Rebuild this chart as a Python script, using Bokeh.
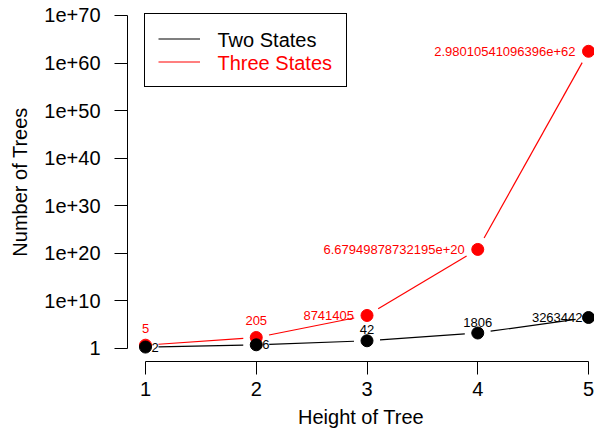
import math
from bokeh.plotting import figure
from bokeh.models import (FixedTicker, CustomJSTickFormatter, Range1d, Legend,
                          LegendItem, ColumnDataSource)
from bokeh.core.properties import value
from bokeh.embed import file_html
from bokeh.resources import INLINE

# ---------------- data ----------------
heights = [1, 2, 3, 4, 5]
two_states = [2, 6, 42, 1806, 3263442]
three_states = [5, 205, 8741405, 6.67949878732195e+20, 2.98010541096396e+62]
two_labels = ["2", "6", "42", "1806", "3263442"]
three_labels = ["5", "205", "8741405", "6.67949878732195e+20", "2.98010541096396e+62"]
x_ticks = [1, 2, 3, 4, 5]
y_ticks = [1e0, 1e10, 1e20, 1e30, 1e40, 1e50, 1e60, 1e70]
y_tick_labels = ["1", "1e+10", "1e+20", "1e+30", "1e+40", "1e+50", "1e+60", "1e+70"]
series_names = ["Two States", "Three States"]
series_colors = ["black", "red"]
# label positions (R style: 2 = left, 3 = above, 4 = right)
two_pos = [4, 4, 3, 3, 2]
three_pos = [3, 3, 2, 2, 2]

FONT = "Liberation Sans"
W, H = 594, 432
BL, BR, BT, BB = 127, 0, 2, 71
FW, FH = W - BL - BR, H - BT - BB
XS, XE = 0.8375, 5.054
YB, YT = -2.733, 72.73          # log10 range of the y axis

p = figure(width=W, height=H, output_backend="svg", toolbar_location=None,
           y_axis_type="log",
           x_range=Range1d(XS, XE), y_range=Range1d(10 ** YB, 10 ** YT),
           min_border_left=BL, min_border_right=BR,
           min_border_top=BT, min_border_bottom=BB)
p.outline_line_color = None
p.grid.visible = False
p.background_fill_color = "white"

kx = FW / (XE - XS)
ky = FH / (YT - YB)
GAP = 13.0


def px_to_data(sx, sy_top):
    """frame pixel (from left, from top) -> data coordinates"""
    return XS + sx / kx, 10 ** (YT - sy_top / ky)


def gapped_segments(xs, ys):
    x0, y0, x1, y1 = [], [], [], []
    for i in range(len(xs) - 1):
        ax, ay = (xs[i] - XS) * kx, math.log10(ys[i]) * ky
        bx, by = (xs[i + 1] - XS) * kx, math.log10(ys[i + 1]) * ky
        d = math.hypot(bx - ax, by - ay)
        if d <= 2 * GAP:
            continue
        ux, uy = (bx - ax) / d, (by - ay) / d
        sx, sy = ax + ux * GAP, ay + uy * GAP
        ex, ey = bx - ux * GAP, by - uy * GAP
        x0.append(XS + sx / kx); y0.append(10 ** (sy / ky))
        x1.append(XS + ex / kx); y1.append(10 ** (ey / ky))
    return dict(x0=x0, y0=y0, x1=x1, y1=y1)


seg_two = p.segment(x0="x0", y0="y0", x1="x1", y1="y1",
                    source=ColumnDataSource(gapped_segments(heights, two_states)),
                    line_color=series_colors[0], line_width=1.2)
seg_three = p.segment(x0="x0", y0="y0", x1="x1", y1="y1",
                      source=ColumnDataSource(gapped_segments(heights, three_states)),
                      line_color=series_colors[1], line_width=1.2)

p.scatter(heights, three_states, size=12, fill_color="red", line_color="red")
p.scatter(heights, two_states, size=12, fill_color="black", line_color="black")


def add_labels(xs, ys, labels, pos, color, off_side, off_up):
    for code, align, dx, dy in [(2, "right", -off_side, 0),
                                (3, "center", 0, -off_up),
                                (4, "left", off_side, 0)]:
        idx = [i for i, c in enumerate(pos) if c == code]
        if not idx:
            continue
        p.text(x=[xs[i] for i in idx], y=[ys[i] for i in idx],
               text=[labels[i] for i in idx],
               text_font=value(FONT), text_font_size="13px", text_color=color,
               text_align=align, text_baseline="middle", x_offset=dx, y_offset=dy)


add_labels(heights, two_states, two_labels, two_pos, "black", 6, 11)
add_labels(heights, three_states, three_labels, three_pos, "red", 13, 17)

# ---------------- axes ----------------
for ax in (p.xaxis[0], p.yaxis[0]):
    ax.axis_line_color = "black"
    ax.axis_line_width = 1
    ax.major_tick_line_color = "black"
    ax.major_tick_line_width = 1
    ax.major_tick_in = 0
    ax.major_tick_out = 13
    ax.minor_tick_line_color = None
    ax.major_label_text_font = FONT
    ax.major_label_text_font_size = "20px"
    ax.major_label_text_color = "black"
    ax.axis_label_text_font = FONT
    ax.axis_label_text_font_size = "20px"
    ax.axis_label_text_font_style = "normal"
    ax.axis_label_text_color = "black"

p.xaxis.ticker = FixedTicker(ticks=x_ticks)
p.xaxis.bounds = (x_ticks[0], x_ticks[-1])
p.xaxis.major_label_standoff = 7
p.xaxis.axis_label = "Height of Tree"
p.xaxis.axis_label_standoff = 7

p.yaxis.ticker = FixedTicker(ticks=y_ticks)
p.yaxis.bounds = (y_ticks[0], y_ticks[-1])
p.yaxis.formatter = CustomJSTickFormatter(
    args=dict(labels=y_tick_labels),
    code="return labels[Math.round(Math.log10(tick) / 10)];")
p.yaxis.major_label_orientation = "horizontal"
p.yaxis.major_label_standoff = 14
p.yaxis.axis_label = "Number of Trees"
p.yaxis.axis_label_standoff = 10

# ---------------- legend ----------------
LEG_X, LEG_TOP = 17, 13
PAD, ROW, GW, STAND = 13, 23, 42, 18
leg_h = 2 * ROW + 2 * PAD
legend = Legend(items=[LegendItem(label=series_names[0], renderers=[seg_two]),
                       LegendItem(label=series_names[1], renderers=[seg_three])],
                location=(LEG_X, FH - LEG_TOP - leg_h),
                padding=PAD, margin=0, spacing=0,
                glyph_width=GW, glyph_height=ROW, label_height=ROW,
                label_standoff=STAND,
                label_text_font=FONT, label_text_font_size="20px",
                label_text_alpha=0.0,
                border_line_color="black", border_line_width=1.2,
                border_line_alpha=1.0,
                background_fill_alpha=0.0)
p.add_layout(legend, "center")

text_sx = LEG_X + PAD + GW + STAND
for i, (name, col) in enumerate(zip(series_names, series_colors)):
    tx, ty = px_to_data(text_sx, LEG_TOP + PAD + ROW * i + ROW / 2)
    r = p.text(x=[tx], y=[ty], text=[name], text_font=value(FONT),
               text_font_size="20px", text_color=col,
               text_align="left", text_baseline="middle")
    r.level = "overlay"

open("out.html", "w").write(file_html(p, INLINE))
